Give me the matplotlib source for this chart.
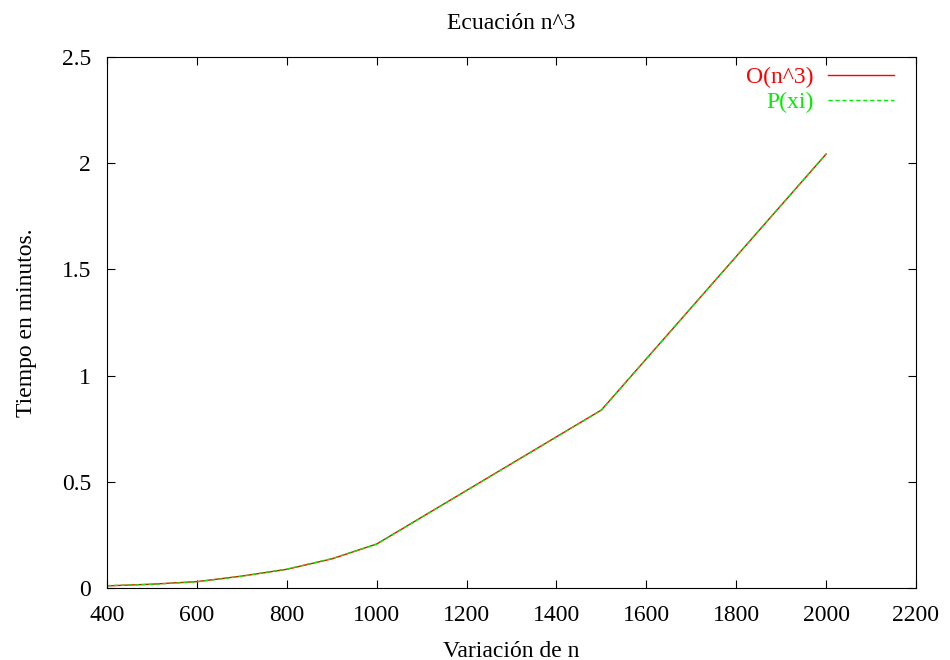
import matplotlib.pyplot as plt

n = [400, 500, 600, 700, 800, 900, 1000, 1500, 2000]
o_n3 = [0.010, 0.018, 0.030, 0.056, 0.088, 0.137, 0.207, 0.838, 2.043]
p_xi = [0.011, 0.017, 0.029, 0.055, 0.089, 0.138, 0.206, 0.837, 2.044]

plt.rcParams["font.family"] = "Liberation Serif"

fig = plt.figure(figsize=(9.5, 6.6), dpi=100)
ax = fig.add_axes([0.1126, 0.1091, 0.8516, 0.8045])

ax.plot(n, o_n3, color="red", linewidth=1, label="O(n^3)")
ax.plot(n, p_xi, color="#00ee00", linewidth=1, linestyle=(0, (3, 2)), label="P(xi)")

ax.set_xlim(400, 2200)
ax.set_ylim(0, 2.5)
ax.set_xticks(range(400, 2201, 200))
ax.set_yticks([0, 0.5, 1, 1.5, 2, 2.5])
ax.set_yticklabels(["0", "0.5", "1", "1.5", "2", "2.5"])
ax.tick_params(direction="in", top=True, right=True, length=6, labelsize=17)
ax.tick_params(axis="x", pad=12)
ax.tick_params(axis="y", pad=11.5)

ax.set_title("Ecuación n^3", fontsize=17, pad=20)
ax.set_xlabel("Variación de n", fontsize=17, labelpad=11)
ax.set_ylabel("Tiempo en minutos.", fontsize=17, labelpad=18)

ax.legend(loc="upper right", bbox_to_anchor=(0.9963, 1.017), frameon=False,
          markerfirst=False, labelcolor="linecolor", fontsize=17, handlelength=2.8,
          handletextpad=0.6, borderaxespad=0.4, labelspacing=0.13, borderpad=0.4)

fig.savefig("out.png", dpi=100)
